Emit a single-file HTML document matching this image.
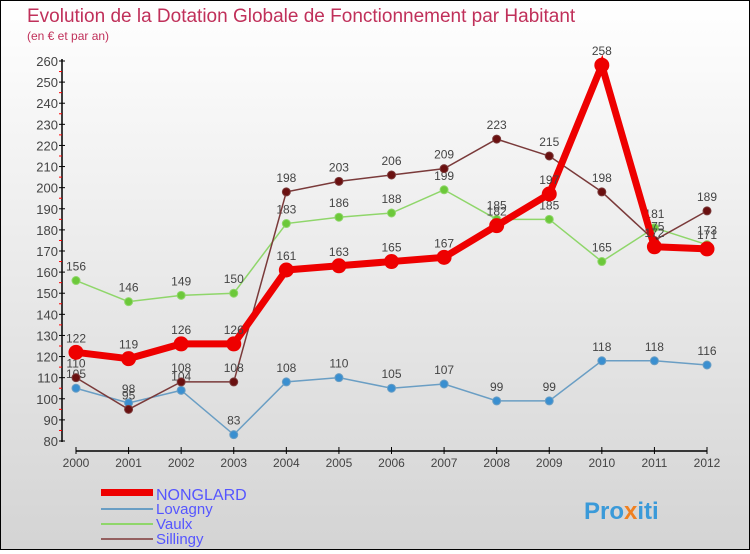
<!DOCTYPE html>
<html><head><meta charset="utf-8"><style>
body{margin:0}
#c{width:748px;height:548px;border:1px solid #000;background:linear-gradient(#fff,#d4d4d4);position:relative;font-family:"Liberation Sans",sans-serif}
</style></head><body>
<div id="c">
<svg id="s" width="748" height="548" xmlns="http://www.w3.org/2000/svg">
<text x="26" y="21" font-size="19" fill="#c0305a">Evolution de la Dotation Globale de Fonctionnement par Habitant</text>
<text x="26" y="39" font-size="12" fill="#c0305a">(en € et par an)</text>
<g id="ax"></g><g id="ser"></g>
<g>
<rect x="100" y="488" width="52" height="7" fill="#e00"/>
<text x="155" y="499" font-size="16" fill="#5555ff">NONGLARD</text>
<rect x="100" y="507" width="52" height="2" fill="#6a9ec4"/>
<text x="155" y="513" font-size="15" fill="#5555ff">Lovagny</text>
<rect x="100" y="522" width="52" height="2" fill="#8fd66a"/>
<text x="155" y="528" font-size="15" fill="#5555ff">Vaulx</text>
<rect x="100" y="537" width="52" height="2" fill="#946060"/>
<text x="155" y="543" font-size="15" fill="#5555ff">Sillingy</text>
</g>
<text x="583" y="518" font-size="24" font-weight="bold" fill="#3a9ad9">Pro<tspan fill="#f08020">x</tspan>iti</text>
</svg></div>
<script>
const years=[2000,2001,2002,2003,2004,2005,2006,2007,2008,2009,2010,2011,2012];
const nonglard=[122,119,126,126,161,163,165,167,182,197,258,172,171];
const lovagny=[105,98,104,83,108,110,105,107,99,99,118,118,116];
const vaulx=[156,146,149,150,183,186,188,199,185,185,165,181,173];
const sillingy=[110,95,108,108,198,203,206,209,223,215,198,175,189];
const yTicks=[80,90,100,110,120,130,140,150,160,170,180,190,200,210,220,230,240,250,260];
const NS="http://www.w3.org/2000/svg";
const X=i=>75+i*(706-75)/12;
const Y=v=>440-(v-80)*380/180;
function mk(t,a,p){const e=document.createElementNS(NS,t);for(const k in a)e.setAttribute(k,a[k]);p.appendChild(e);return e;}
const ax=document.getElementById('ax');
let l=mk('line',{x1:61,y1:58,x2:61,y2:441,stroke:'#000','stroke-width':1.5},ax);


l=mk('line',{x1:75,y1:450,x2:706,y2:450,stroke:'#000','stroke-width':1.5},ax);


yTicks.forEach(v=>{
 mk('line',{x1:58,y1:Y(v),x2:64,y2:Y(v),stroke:'#000'},ax);
 if(v<260)mk('line',{x1:58,y1:Y(v+5),x2:61,y2:Y(v+5),stroke:'#f00'},ax);
 const t=mk('text',{x:57,y:Y(v)+5,'font-size':13,fill:'#444','text-anchor':'end'},ax);t.textContent=v;
 
 
});
years.forEach((y,i)=>{
 mk('line',{x1:X(i),y1:446,x2:X(i),y2:453,stroke:'#000'},ax);
 const t=mk('text',{x:X(i),y:466,'font-size':12,fill:'#444','text-anchor':'middle'},ax);t.textContent=y;
 
 
});
const ser=document.getElementById('ser');
function draw(vals,col,dot,w,r,name){
 const g=mk('g',{},ser);
 
 
 mk('polyline',{points:vals.map((v,i)=>X(i)+','+Y(v)).join(' '),fill:'none',stroke:col,'stroke-width':w},g);
 vals.forEach((v,i)=>{
  const c=mk('circle',{cx:X(i),cy:Y(v),r:r,fill:dot,stroke:col},g);
  
  
  const t=mk('text',{x:X(i),y:Y(v)-10,'font-size':12,fill:'#444','text-anchor':'middle'},g);t.textContent=v;
  
  
 });
}
draw(lovagny,'#6a9ec4','#3a8fd0',1.5,4,'lovagny');
draw(vaulx,'#8fd66a','#6cc83a',1.5,4,'vaulx');
draw(sillingy,'#7a3a3a','#6a1010',1.5,4,'sillingy');
draw(nonglard,'#ee0000','#ee0000',7,7,'nonglard');
</script>
</body></html>
